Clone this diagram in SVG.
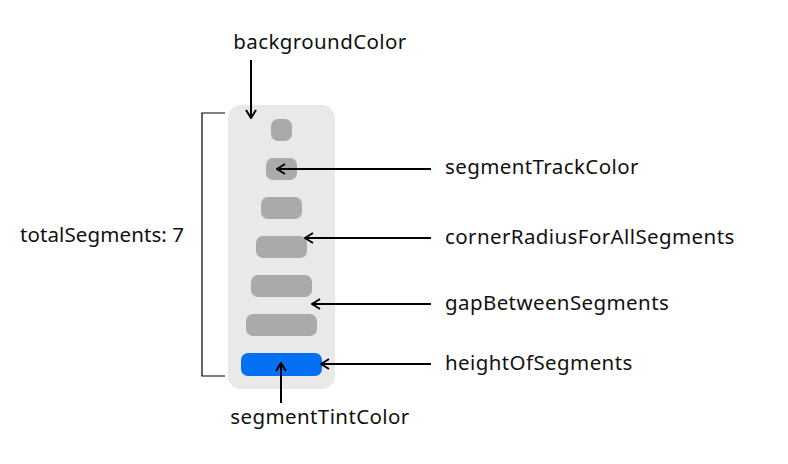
<svg xmlns="http://www.w3.org/2000/svg" width="788" height="464" viewBox="0 0 788 464">
<style>
  text { font-family: "Noto Sans", "Open Sans", sans-serif; font-size: 20.5px; letter-spacing: 0.4px; fill: #111; }
  .seg { fill: #aaaaaa; }
  .tint { fill: #0571f2; }
  .arrow { stroke: #000; stroke-width: 2; fill: none; marker-end: url(#head); }
  .bracket { stroke: #000; stroke-width: 1.2; fill: none; }
</style>
<defs>
  <marker id="head" viewBox="0 0 12 12" refX="11" refY="6" markerWidth="12" markerHeight="12" markerUnits="userSpaceOnUse" orient="auto">
    <path d="M3,1 L11,6 L3,11" fill="none" stroke="#000" stroke-width="2"/>
  </marker>
</defs>
<rect width="788" height="464" fill="#fff"/>
<g id="panel">
  <rect x="228" y="105" width="107" height="284" rx="13" fill="#e9e9e9"/>
  <rect class="seg" x="271" y="119" width="21" height="22" rx="7"/>
  <rect class="seg" x="266" y="158" width="31" height="22" rx="7"/>
  <rect class="seg" x="261" y="197" width="41" height="22" rx="7"/>
  <rect class="seg" x="256" y="236" width="51" height="22" rx="7"/>
  <rect class="seg" x="251" y="275" width="61" height="22" rx="7"/>
  <rect class="seg" x="246" y="314" width="71" height="22" rx="7"/>
  <rect class="tint" x="241" y="353" width="81" height="23" rx="7"/>
</g>
<g id="labels">
  <text x="320" y="49" text-anchor="middle">backgroundColor</text>
  <text x="445" y="174">segmentTrackColor</text>
  <text x="445" y="244">cornerRadiusForAllSegments</text>
  <text x="445" y="310">gapBetweenSegments</text>
  <text x="445" y="370">heightOfSegments</text>
  <text x="320" y="424" text-anchor="middle">segmentTintColor</text>
  <text x="20" y="242" style="letter-spacing:0.1px">totalSegments: 7</text>
</g>
<g id="connectors">
  <path class="arrow" d="M251,60 V118"/>
  <path class="arrow" d="M431,169 H277"/>
  <path class="arrow" d="M431,238 H305"/>
  <path class="arrow" d="M431,304 H312"/>
  <path class="arrow" d="M431,364 H321"/>
  <path class="arrow" d="M281,403 V363"/>
  <path class="bracket" d="M225,113 H202 V376 H225"/>
</g>
</svg>
